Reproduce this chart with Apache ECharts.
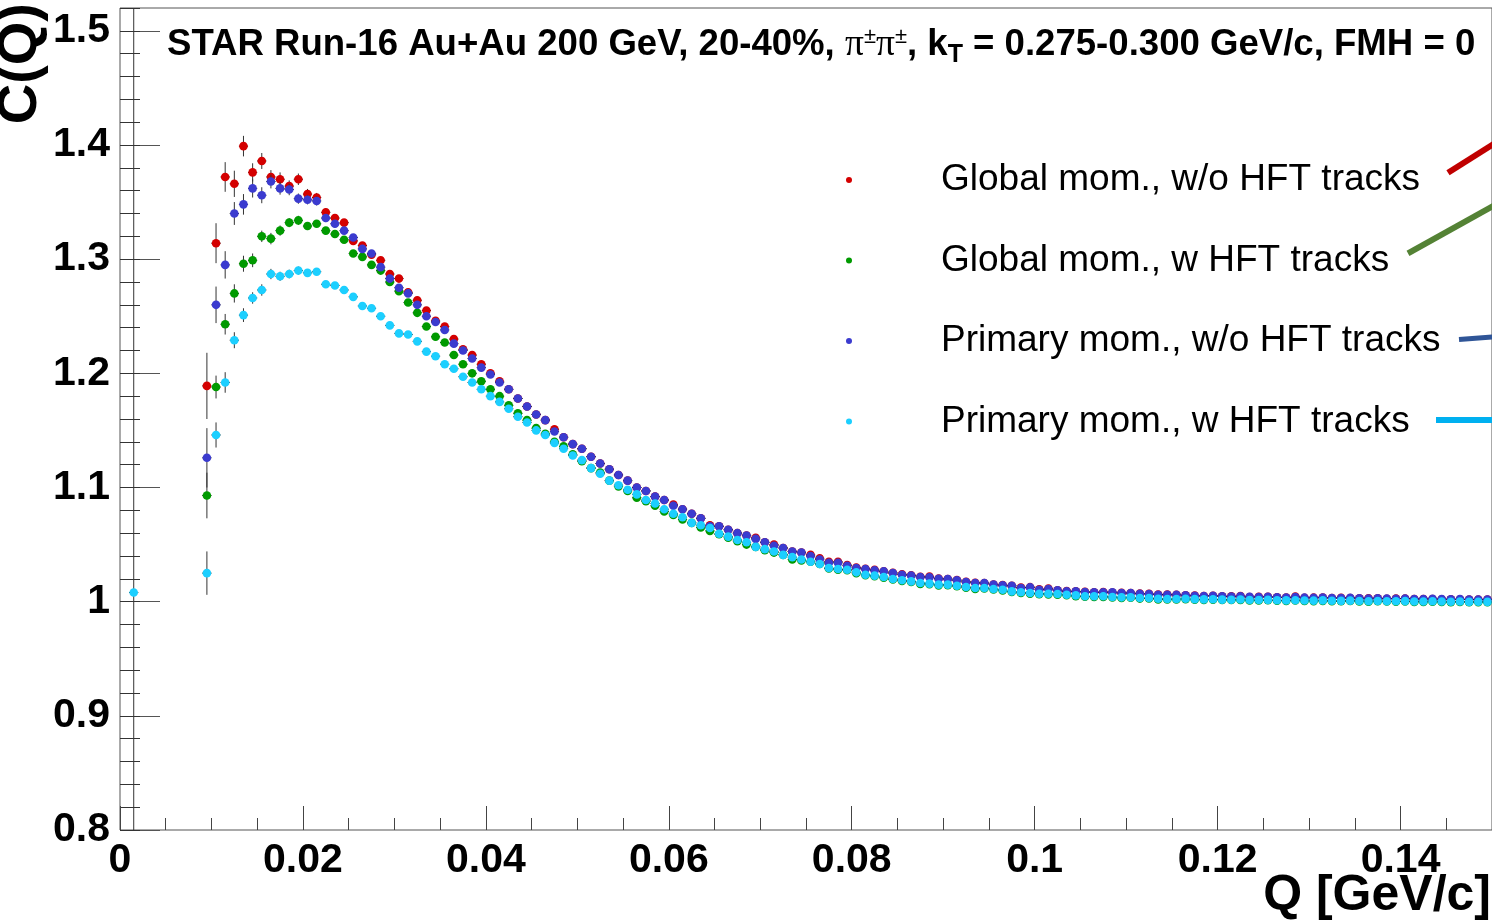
<!DOCTYPE html>
<html>
<head>
<meta charset="utf-8">
<script src="https://cdn.jsdelivr.net/npm/echarts/dist/echarts.min.js"></script>
<style>html,body{margin:0;padding:0;background:#fff;}#chart{width:1492px;height:920px;}</style>
</head>
<body>
<div id="chart"></div>
<script>
// ---- Data (bin width 0.001 GeV/c, bins from 0 to 0.15) ----
const binWidth = 0.001;
const nBins = 150;
const names = ['Global mom., w/o HFT tracks', 'Global mom., w HFT tracks', 'Primary mom., w/o HFT tracks', 'Primary mom., w HFT tracks'];
const colors = ['#d40000', '#009a00', '#3b3bcf', '#1ccfff'];
const xTicks = [0, 0.02, 0.04, 0.06, 0.08, 0.1, 0.12, 0.14];
const yTicks = [0.8, 0.9, 1, 1.1, 1.2, 1.3, 1.4, 1.5];

const globalNoHFT = [null,null,null,null,null,null,null,null,null,
1.189,1.314,1.372,1.366,1.399,1.376,1.386,1.372,1.370,1.364,
1.370,1.357,1.354,1.341,1.336,1.332,1.316,1.312,1.304,1.299,
1.287,1.283,1.271,1.264,1.255,1.246,1.241,1.230,1.221,1.216,
1.208,1.200,1.193,1.186,1.178,1.171,1.164,1.159,1.151,1.144,
1.138,1.134,1.127,1.121,1.116,1.111,1.106,1.100,1.097,1.092,
1.089,1.085,1.081,1.077,1.073,1.067,1.066,1.063,1.060,1.058,
1.056,1.052,1.050,1.047,1.044,1.043,1.041,1.038,1.035,1.035,
1.032,1.0298,1.0288,1.0280,1.0266,1.0252,1.0240,1.0232,1.0218,1.0220,
1.0203,1.0199,1.0190,1.0175,1.0166,1.0162,1.0150,1.0146,1.0138,1.0124,
1.0127,1.0108,1.0114,1.0100,1.0094,1.0090,1.0087,1.0082,1.0085,1.0080,
1.0077,1.0075,1.0071,1.0068,1.0063,1.0062,
1.0061,1.0056,1.0054,1.0050,1.0052,1.0046,1.0047,1.0049,1.0041,1.0042,
1.0043,1.0039,1.0036,1.0044,1.0034,1.0035,1.0036,1.0031,1.0033,1.0032,
1.0029,1.0030,1.0029,1.0026,1.0027,1.0027,1.0023,1.0024,1.0024,1.0021,
1.0021,1.0020,1.0019,1.0019,1.0018];

const globalHFT = [null,null,null,null,null,null,null,null,null,
1.093,1.188,1.243,1.270,1.296,1.299,1.320,1.318,1.325,1.332,
1.334,1.329,1.331,1.325,1.322,1.317,1.305,1.302,1.295,1.290,
1.280,1.272,1.262,1.253,1.241,1.232,1.227,1.216,1.208,1.200,
1.193,1.186,1.180,1.172,1.165,1.159,1.152,1.147,1.140,1.136,
1.129,1.123,1.117,1.113,1.106,1.101,1.097,1.091,1.088,1.084,
1.079,1.076,1.072,1.069,1.065,1.062,1.059,1.056,1.053,1.050,
1.048,1.045,1.043,1.041,1.037,1.036,1.035,1.033,1.029,1.028,
1.0275,1.0250,1.0232,1.0222,1.0209,1.0195,1.0182,1.0173,1.0155,1.0154,
1.0143,1.0144,1.0135,1.0122,1.0112,1.0116,1.0106,1.0098,1.0086,1.0077,
1.0070,1.0066,1.0064,1.0060,1.0056,1.0048,1.0043,1.0042,1.0041,1.0037,
1.0032,1.0034,1.0027,1.0028,1.0020,1.0019,
1.0020,1.0022,1.0018,1.0016,1.0018,1.0014,1.0014,1.0015,1.0011,1.0010,
1.0012,1.0008,1.0007,1.0010,1.0006,1.0005,1.0007,1.0004,1.0003,1.0006,
1.0002,1.0000,1.0003,1.0001,0.9999,1.0002,0.9998,0.9997,1.0000,0.9997,
0.9995,0.9998,0.9995,0.9996,0.9995];

const primaryNoHFT = [null,null,null,null,null,null,null,null,null,
1.126,1.260,1.295,1.340,1.348,1.362,1.356,1.368,1.362,1.361,
1.353,1.352,1.351,1.336,1.331,1.325,1.319,1.309,1.305,1.293,
1.283,1.275,1.270,1.260,1.250,1.245,1.238,1.226,1.220,1.213,
1.205,1.199,1.192,1.186,1.178,1.171,1.164,1.159,1.149,1.144,
1.138,1.134,1.127,1.121,1.116,1.111,1.106,1.100,1.097,1.092,
1.089,1.084,1.081,1.077,1.073,1.066,1.066,1.063,1.060,1.058,
1.055,1.052,1.049,1.047,1.044,1.043,1.040,1.037,1.034,1.034,
1.0315,1.0295,1.0286,1.0274,1.0265,1.0251,1.0236,1.0228,1.0216,1.0213,
1.0201,1.0199,1.0187,1.0172,1.0163,1.0163,1.0149,1.0143,1.0140,1.0120,
1.0125,1.0105,1.0111,1.0099,1.0090,1.0090,1.0085,1.0082,1.0082,1.0082,
1.0076,1.0076,1.0070,1.0067,1.0061,1.0061,
1.0060,1.0055,1.0052,1.0050,1.0051,1.0047,1.0045,1.0047,1.0042,1.0040,
1.0042,1.0038,1.0037,1.0040,1.0035,1.0034,1.0036,1.0032,1.0031,1.0033,
1.0030,1.0028,1.0030,1.0027,1.0026,1.0028,1.0024,1.0023,1.0025,1.0022,
1.0020,1.0022,1.0019,1.0018,1.0019];

const primaryHFT = [null,1.008,null,null,null,null,null,null,null,
1.025,1.146,1.192,1.229,1.251,1.266,1.273,1.287,1.285,1.287,
1.290,1.288,1.289,1.278,1.277,1.273,1.267,1.259,1.257,1.250,
1.242,1.235,1.234,1.228,1.219,1.215,1.208,1.204,1.197,1.192,
1.186,1.180,1.175,1.169,1.162,1.157,1.150,1.146,1.139,1.134,
1.128,1.124,1.117,1.112,1.106,1.102,1.098,1.094,1.089,1.086,
1.081,1.077,1.074,1.069,1.067,1.0645,1.0595,1.057,1.054,1.052,
1.048,1.046,1.044,1.041,1.039,1.037,1.035,1.033,1.0295,1.0286,
1.0280,1.0257,1.0236,1.0228,1.0216,1.0199,1.0187,1.0178,1.0163,1.0158,
1.0149,1.0149,1.0140,1.0128,1.0120,1.0120,1.0111,1.0105,1.0090,1.0082,
1.0076,1.0070,1.0070,1.0067,1.0061,1.0055,1.0047,1.0047,1.0047,1.0041,
1.0038,1.0038,1.0032,1.0032,1.0026,1.0023,
1.0024,1.0026,1.0022,1.0020,1.0021,1.0018,1.0017,1.0019,1.0015,1.0014,
1.0016,1.0012,1.0011,1.0013,1.0010,1.0009,1.0011,1.0008,1.0007,1.0009,
1.0006,1.0004,1.0006,1.0004,1.0003,1.0005,1.0002,1.0001,1.0003,1.0001,
0.9999,1.0001,0.9998,0.9999,0.9998];

// statistical errors (only where visible beyond the markers)
const errGlobalNoHFT = [null,null,null,null,null,null,null,null,null,
0.029,0.0175,0.013,0.0115,0.009,0.008,0.007,0.006,0.006,0.005,0.005,0.0045,0.004,0.0035,0.0033,0.003,0.003,0.0028,0.0026,0.0025,0.0023,0.0022];
const errGlobalHFT = [null,null,null,null,null,null,null,null,null,
0.020,0.010,0.009,0.008,0.007,0.006,0.005,0.005,0.0045,0.004,0.004,0.0035,0.0033,0.003,0.003,0.0028,0.0026,0.0025,0.0023,0.0022,0.002,0.002];
const errPrimaryNoHFT = [null,null,null,null,null,null,null,null,null,
0.026,0.016,0.012,0.010,0.009,0.008,0.007,0.006,0.0055,0.005,0.0045,0.004,0.004,0.0035,0.0033,0.003,0.003,0.0028,0.0026,0.0025,0.0023,0.0022];
const errPrimaryHFT = [null,1.0,null,null,null,null,null,null,null,
0.019,0.011,0.009,0.007,0.006,0.005,0.005,0.0045,0.004,0.0038,0.0035,0.0033,0.003,0.003,0.0028,0.0026,0.0025,0.0023,0.0022,0.002,0.002,0.002];

const values = [globalNoHFT, globalHFT, primaryNoHFT, primaryHFT];
const errors = [errGlobalNoHFT, errGlobalHFT, errPrimaryNoHFT, errPrimaryHFT];

// ---- Build ----
const FONT = 'Liberation Sans';
const binCenters = Array.from({length: nBins}, (_, i) => +((i + 0.5) * binWidth).toFixed(4));

function makeData(vals, errs) {
  const out = [];
  vals.forEach((v, i) => {
    if (v === null || v === undefined) return;
    const e = (errs[i] === null || errs[i] === undefined) ? 0 : errs[i];
    out.push([binCenters[i], v, e]);
  });
  return out;
}

function makeRender(color) {
  return function (params, api) {
    const cs = params.coordSys;
    const top = cs.y, bottom = cs.y + cs.height, left = cs.x, right = cs.x + cs.width;
    const x = api.value(0), y = api.value(1), e = api.value(2);
    const c = api.coord([x, y]);
    const l = api.coord([x - binWidth / 2, y]);
    const r = api.coord([x + binWidth / 2, y]);
    const kids = [];
    kids.push({type: 'line', shape: {x1: Math.max(left, l[0]), y1: c[1], x2: Math.min(right, r[0]), y2: c[1]},
      style: {stroke: '#000', lineWidth: 1}});
    if (e > 0) {
      const t = api.coord([x, y + e]);
      const b = api.coord([x, y - e]);
      kids.push({type: 'line', shape: {x1: c[0], y1: Math.max(top, t[1]), x2: c[0], y2: Math.min(bottom, b[1])},
        style: {stroke: '#333', lineWidth: 1}});
    }
    kids.push({type: 'circle', shape: {cx: c[0], cy: c[1], r: 4.3}, style: {fill: color}});
    return {type: 'group', children: kids};
  };
}

const series = names.map((n, k) => ({
  name: n,
  type: 'custom',
  xAxisIndex: 0,
  yAxisIndex: 0,
  renderItem: makeRender(colors[k]),
  itemStyle: {color: colors[k]},
  encode: {x: 0, y: 1},
  data: makeData(values[k], errors[k]),
  z: 2 + k
}));

const labelStyle = {fontFamily: FONT, fontWeight: 'bold', fontSize: 41, color: '#000'};

const option = {
  animation: false,
  backgroundColor: '#fff',
  grid: {left: 120, right: 0, top: 8, bottom: 90, show: true, borderColor: '#555', borderWidth: 1, backgroundColor: 'transparent'},
  title: {
    left: 162, top: 17,
    text: '{b|STAR Run-16 Au+Au 200 GeV, 20-40%, }{pi|\u03C0}{sup|\u00B1}{pi|\u03C0}{sup|\u00B1}{b|, k}{sub|T}{b| = 0.275-0.300 GeV/c, FMH = 0}',
    textStyle: {
      rich: {
        b: {fontFamily: FONT, fontWeight: 'bold', fontSize: 36.6, color: '#000', lineHeight: 46},
        pi: {fontFamily: 'Liberation Serif', fontWeight: 'normal', fontSize: 37.5, color: '#000', lineHeight: 46},
        sup: {fontFamily: FONT, fontWeight: 'normal', fontSize: 22, color: '#000', lineHeight: 22, verticalAlign: 'top', padding: [4, 0, 0, 0]},
        sub: {fontFamily: FONT, fontWeight: 'bold', fontSize: 25, color: '#000', lineHeight: 25, verticalAlign: 'bottom'}
      }
    }
  },
  legend: {
    orient: 'vertical', left: 841, top: 155,
    itemWidth: 6, itemHeight: 6, itemGap: 40.5, icon: 'circle',
    selectedMode: false,
    data: names,
    textStyle: {fontFamily: FONT, fontSize: 37, color: '#000', lineHeight: 40, padding: [0, 0, 0, 84]}
  },
  xAxis: [
    {type: 'value', min: 0, max: 0.15, interval: 0.02, position: 'bottom',
      axisLine: {show: false, onZero: false},
      axisTick: {show: true, inside: true, length: 24, lineStyle: {color: '#444', width: 1}},
      axisLabel: Object.assign({showMaxLabel: false, margin: 10, formatter: v => xTicks.includes(+v.toFixed(4)) ? String(+v.toFixed(4)) : ''}, labelStyle),
      splitLine: {show: false}},
    {type: 'value', min: 0, max: 0.15, interval: 0.005, position: 'bottom',
      axisLine: {show: false, onZero: false},
      axisTick: {show: true, inside: true, length: 12, lineStyle: {color: '#444', width: 1}},
      axisLabel: {show: false}, splitLine: {show: false}}
  ],
  yAxis: [
    {type: 'value', min: 0.8, max: 1.52, interval: 0.1, position: 'left',
      axisLine: {show: false, onZero: false},
      axisTick: {show: true, inside: true, length: 40, lineStyle: {color: '#555', width: 1}},
      axisLabel: Object.assign({showMaxLabel: false, margin: 10, formatter: v => yTicks.includes(+v.toFixed(4)) ? String(+v.toFixed(4)) : ''}, labelStyle),
      splitLine: {show: false}},
    {type: 'value', min: 0.8, max: 1.52, interval: 0.02, position: 'left',
      axisLine: {show: false, onZero: false},
      axisTick: {show: true, inside: true, length: 20, lineStyle: {color: '#333', width: 1}},
      axisLabel: {show: false}, splitLine: {show: false}}
  ],
  graphic: [
    {type: 'text', x: 49, y: 3, rotation: Math.PI / 2,
      style: {text: 'C(Q)', font: 'bold 56px "Liberation Sans"', fill: '#000', textAlign: 'right', textVerticalAlign: 'bottom'}},
    {type: 'text', x: 1491, y: 921,
      style: {text: 'Q [GeV/c]', font: 'bold 50px "Liberation Sans"', fill: '#000', textAlign: 'right', textVerticalAlign: 'bottom'}},
    {type: 'line', shape: {x1: 1448, y1: 172.7, x2: 1500, y2: 139.9}, style: {stroke: '#c00000', lineWidth: 6}},
    {type: 'line', shape: {x1: 1408, y1: 253.3, x2: 1500, y2: 202.2}, style: {stroke: '#548235', lineWidth: 6}},
    {type: 'line', shape: {x1: 1459, y1: 339.5, x2: 1500, y2: 336.3}, style: {stroke: '#2f5597', lineWidth: 5}},
    {type: 'line', shape: {x1: 1436, y1: 420, x2: 1500, y2: 420}, style: {stroke: '#00b0f0', lineWidth: 6}}
  ],
  series: series
};

const chart = echarts.init(document.getElementById('chart'), null, {renderer: 'canvas'});
chart.setOption(option);
</script>
</body>
</html>
